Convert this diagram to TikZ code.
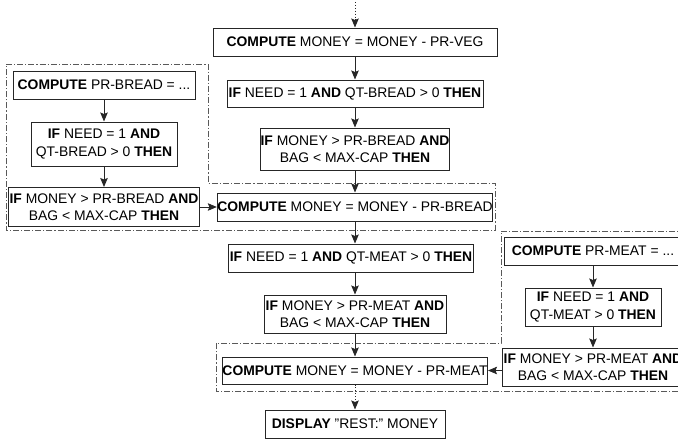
\documentclass[tikz,border=0pt]{standalone}
\usepackage{fontspec}
\setmainfont{Liberation Sans}
\usetikzlibrary{arrows.meta}
\begin{document}
\begin{tikzpicture}[x=1pt,y=-1pt,
  box/.style={draw=black!85, line width=1pt, fill=white, inner sep=0pt, align=center,
    font=\fontsize{13.9}{17.5}\selectfont},
  arr/.style={-{Stealth[length=9pt,width=7.5pt,inset=1.5pt]}, line width=0.9pt, draw=black!85},
  dotarr/.style={arr, dotted},
  region/.style={draw=black!65, line width=0.8pt, dash pattern=on 6pt off 2pt on 1.2pt off 2pt}]
\clip (0,0) rectangle (678,440);
% fragment regions
\draw[region] (6,64) -- (208,64) -- (208,183) -- (495,183) -- (495,230) -- (6,230) -- cycle;
\draw[region] (501,231) -- (700,231) -- (700,391) -- (216,391) -- (216,343) -- (501,343) -- cycle;
% main column
\node[box, minimum width=284pt, minimum height=28pt] (veg) at (355,42) {\textbf{COMPUTE} MONEY = MONEY - PR-VEG};
\node[box, minimum width=256pt, minimum height=27pt] (needB) at (355,93.5) {\textbf{IF} NEED = 1 \textbf{AND} QT-BREAD > 0 \textbf{THEN}};
\node[box, minimum width=188pt, minimum height=42pt] (moneyB) at (355,149) {\textbf{IF} MONEY > PR-BREAD \textbf{AND}\\BAG < MAX-CAP \textbf{THEN}};
\node[box, minimum width=275pt, minimum height=28pt] (compB) at (355,207) {\textbf{COMPUTE} MONEY = MONEY - PR-BREAD};
\node[box, minimum width=245pt, minimum height=28pt] (needM) at (351,258) {\textbf{IF} NEED = 1 \textbf{AND} QT-MEAT > 0 \textbf{THEN}};
\node[box, minimum width=182pt, minimum height=38pt] (moneyM) at (355,314) {\textbf{IF} MONEY > PR-MEAT \textbf{AND}\\BAG < MAX-CAP \textbf{THEN}};
\node[box, minimum width=265pt, minimum height=27pt] (compM) at (355,370.5) {\textbf{COMPUTE} MONEY = MONEY - PR-MEAT};
\node[box, minimum width=180pt, minimum height=28pt] (disp) at (355,424) {\textbf{DISPLAY} \symbol{34}REST:\symbol{34} MONEY};
% bread fragment
\node[box, minimum width=182pt, minimum height=28pt] (cprb) at (104,85) {\textbf{COMPUTE} PR-BREAD = ...};
\node[box, minimum width=146pt, minimum height=44pt] (nb2) at (104,144) {\textbf{IF} NEED = 1 \textbf{AND}\\QT-BREAD > 0 \textbf{THEN}};
\node[box, minimum width=191pt, minimum height=39pt] (mb2) at (104,207) {\textbf{IF} MONEY > PR-BREAD \textbf{AND}\\BAG < MAX-CAP \textbf{THEN}};
% meat fragment
\node[box, minimum width=178pt, minimum height=28pt] (cprm) at (593,251) {\textbf{COMPUTE} PR-MEAT = ...};
\node[box, minimum width=136pt, minimum height=38pt] (nm2) at (593,307) {\textbf{IF} NEED = 1 \textbf{AND}\\QT-MEAT > 0 \textbf{THEN}};
\node[box, minimum width=182pt, minimum height=38pt] (mm2) at (593,367) {\textbf{IF} MONEY > PR-MEAT \textbf{AND}\\BAG < MAX-CAP \textbf{THEN}};
% connectors
\coordinate (top) at (355,2);
\draw[dotarr] (top) -- (veg.north);
\draw[arr] (veg) -- (needB);
\draw[arr] (needB) -- (moneyB);
\draw[arr] (moneyB) -- (compB);
\draw[arr] (compB.south) -- (compB.south |- needM.north);
\draw[arr] (compB.south |- needM.south) -- (moneyM.north);
\draw[arr] (moneyM) -- (compM);
\draw[dotarr] (compM) -- (disp);
\draw[arr] (cprb) -- (nb2);
\draw[arr] (nb2) -- (mb2);
\draw[arr] (mb2) -- (compB);
\draw[arr] (cprm) -- (nm2);
\draw[arr] (nm2) -- (mm2);
\draw[arr] (mm2.west |- compM.east) -- (compM.east);
\end{tikzpicture}
\end{document}
